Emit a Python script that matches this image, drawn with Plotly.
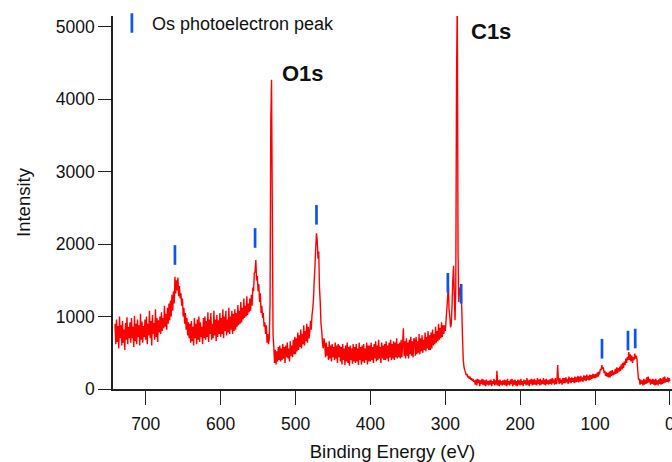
import plotly.graph_objects as go

# XPS survey spectrum at 1 eV steps, from 741 eV down to 0 eV
start_energy = 741
intensity = [
    # 741-722
    900, 620, 960, 650, 870, 560, 1000, 700, 880, 600, 940, 640, 820, 540, 910, 680, 990, 620, 860, 700,
    # 721-702
    920, 640, 980, 700, 860, 580, 1010, 660, 900, 620, 960, 720, 880, 600, 1040, 680, 930, 640, 870, 720,
    # 701-682
    960, 680, 1000, 620, 900, 740, 1080, 700, 940, 600, 1020, 760, 910, 680, 1100, 720, 980, 650, 950, 780,
    # 681-662
    1000, 760, 1060, 800, 980, 840, 1150, 860, 1040, 820, 1120, 900, 1180, 950, 1220, 1000, 1300, 1080, 1350, 1180,
    # 661-642
    1550, 1320, 1500, 1360, 1540, 1280, 1420, 1250, 1320, 1150, 1250, 1000, 1120, 900, 1050, 820, 980, 740, 920, 700,
    # 641-622
    900, 640, 940, 660, 860, 600, 980, 700, 900, 620, 960, 680, 1000, 650, 920, 720, 860, 620, 980, 700,
    # 621-602
    1000, 680, 940, 720, 1060, 650, 960, 760, 1050, 680, 900, 700, 1080, 740, 960, 660, 1020, 720, 950, 760,
    # 601-582
    1050, 720, 980, 760, 1100, 700, 1000, 800, 1080, 740, 960, 780, 1120, 760, 1000, 820, 1080, 760, 1040, 800,
    # 581-562
    1100, 820, 1050, 860, 1160, 880, 1080, 900, 1200, 920, 1120, 960, 1250, 980, 1150, 1000, 1280, 1020, 1180, 1060,
    # 561-542
    1250, 1080, 1300, 1150, 1400, 1350, 1600, 1620, 1780, 1500, 1560, 1350, 1450, 1200, 1320, 1050, 1150, 980, 1050, 860,
    # 541-522
    920, 760, 880, 640, 760, 620, 700, 1200, 3700, 4270, 2500, 750, 580, 360, 540, 340, 520, 380, 580, 400,
    # 521-502
    600, 380, 560, 400, 620, 420, 580, 360, 600, 440, 640, 420, 560, 380, 660, 460, 600, 440, 680, 480,
    # 501-482
    720, 480, 700, 520, 780, 540, 740, 580, 820, 560, 760, 620, 880, 600, 800, 660, 900, 640, 860, 700,
    # 481-462
    780, 940, 820, 1020, 1100, 1250, 1500, 1700, 1950, 2150, 2050, 1800, 1900, 1400, 1200, 900, 800, 640, 560, 700,
    # 461-442
    620, 440, 640, 460, 580, 400, 660, 420, 600, 380, 620, 440, 580, 400, 640, 420, 600, 360, 620, 440,
    # 441-422
    600, 380, 580, 340, 620, 400, 560, 330, 600, 380, 640, 360, 580, 320, 600, 400, 560, 350, 620, 380,
    # 421-402
    580, 360, 620, 380, 560, 330, 640, 400, 580, 340, 600, 380, 620, 360, 560, 400, 640, 340, 600, 380,
    # 401-382
    600, 380, 640, 400, 580, 360, 620, 420, 660, 380, 600, 400, 680, 420, 580, 360, 640, 420, 600, 400,
    # 381-362
    620, 400, 660, 420, 600, 380, 640, 440, 680, 400, 620, 420, 660, 400, 640, 440, 700, 420, 620, 440,
    # 361-342
    640, 420, 680, 440, 620, 840, 460, 660, 420, 700, 460, 640, 420, 680, 480, 720, 460, 660, 440, 700,
    # 341-322
    680, 460, 720, 480, 660, 500, 760, 480, 700, 520, 740, 500, 680, 540, 780, 520, 720, 560, 800, 540,
    # 321-302
    740, 540, 780, 560, 820, 600, 760, 620, 860, 640, 800, 660, 900, 680, 840, 700, 920, 720, 880, 760,
    # 301-282
    880, 800, 950, 1100, 1250, 1450, 1100, 1000, 850, 900, 1150, 1500, 1700, 1300, 950, 1400, 4300, 5400, 1900, 1200,
    # 281-262
    1400, 1300, 1350, 1100, 700, 400, 300, 260, 230, 190, 210, 160, 180, 140, 170, 130, 150, 110, 140, 100,
    # 261-242
    120, 60, 130, 50, 140, 80, 130, 40, 120, 70, 140, 60, 130, 50, 120, 40, 130, 60, 110, 50,
    # 241-222
    120, 60, 130, 40, 110, 70, 140, 50, 120, 60, 250, 50, 120, 40, 130, 60, 110, 50, 120, 60,
    # 221-202
    130, 50, 120, 40, 140, 60, 110, 50, 130, 70, 140, 40, 120, 60, 130, 50, 110, 40, 130, 60,
    # 201-182
    120, 50, 140, 60, 110, 40, 130, 70, 120, 50, 150, 60, 120, 40, 130, 70, 140, 50, 130, 60,
    # 181-162
    140, 60, 120, 50, 150, 70, 130, 50, 140, 60, 120, 70, 150, 60, 130, 50, 140, 70, 120, 60,
    # 161-142
    130, 70, 140, 60, 150, 80, 130, 60, 150, 70, 80, 330, 140, 70, 150, 80, 130, 60, 150, 80,
    # 141-122
    150, 80, 160, 90, 140, 70, 170, 90, 150, 80, 160, 100, 150, 80, 170, 90, 160, 100, 180, 90,
    # 121-102
    170, 100, 180, 110, 160, 100, 190, 120, 180, 110, 200, 130, 180, 120, 200, 130, 190, 140, 210, 150,
    # 101-82
    200, 150, 210, 160, 230, 170, 240, 200, 280, 260, 330, 280, 300, 220, 250, 180, 230, 170, 220, 160,
    # 81-62
    240, 160, 250, 180, 260, 190, 240, 200, 280, 210, 300, 220, 290, 240, 310, 250, 340, 270, 360, 290,
    # 61-42
    380, 330, 420, 360, 440, 400, 510, 400, 480, 380, 460, 360, 440, 400, 490, 420, 460, 400, 250, 130,
    # 41-22
    140, 60, 130, 70, 120, 50, 140, 60, 130, 70, 160, 80, 170, 90, 140, 60, 130, 70, 140, 60,
    # 21-2
    130, 50, 140, 60, 120, 50, 130, 70, 150, 60, 140, 70, 160, 80, 170, 90, 140, 100, 160, 90,
    # 1-0
    150, 110,
]
assert len(intensity) == start_energy + 1, len(intensity)
binding_energy = [start_energy - i for i in range(len(intensity))]

# Os photoelectron peak markers
os_peak_be = [661, 554, 472, 296.6, 278.8, 90.8, 56.1, 46.4]
os_peak_int = [1850, 2085, 2405, 1467, 1315, 556, 669, 697]

# Peak labels
peak_labels = ["O1s", "C1s"]
peak_label_be = [521, 268.5]
peak_label_int = [4363, 4935]

x_ticks = [0, 100, 200, 300, 400, 500, 600, 700]
y_ticks = [0, 1000, 2000, 3000, 4000, 5000]

FONT = "Liberation Sans, Arial, sans-serif"
AX = "#222222"

fig = go.Figure()
fig.add_trace(go.Scatter(
    x=binding_energy, y=intensity, mode="lines",
    line=dict(color="#ff0000", width=1.4, simplify=False),
    showlegend=False, hoverinfo="skip",
))
fig.add_trace(go.Scatter(
    x=os_peak_be, y=os_peak_int, mode="markers",
    name="Os photoelectron peak",
    marker=dict(symbol="line-ns", size=14, color="#0a55f0",
                line=dict(color="#0a55f0", width=2.7)),
))

for t, bx, by in zip(peak_labels, peak_label_be, peak_label_int):
    fig.add_annotation(x=bx, y=by, xref="x", yref="y", text=f"<b>{t}</b>",
                       showarrow=False, xanchor="left", yanchor="middle",
                       font=dict(family=FONT, size=22, color="#111111"))

fig.update_layout(
    width=672, height=462,
    margin=dict(l=113, r=0, t=16, b=73, autoexpand=False),
    paper_bgcolor="white", plot_bgcolor="white",
    font=dict(family=FONT, size=17.5, color="#111111"),
    legend=dict(x=-0.002, y=1.03, xanchor="left", yanchor="top",
                bgcolor="rgba(0,0,0,0)", font=dict(size=18, family=FONT),
                itemwidth=30, tracegroupgap=0),
    showlegend=True,
)
fig.update_xaxes(
    range=[743.7, -2.7], tickvals=x_ticks, ticks="outside", ticklen=14,
    tickwidth=1.3, tickcolor=AX, showline=True, linecolor=AX, linewidth=1.5,
    showgrid=False, zeroline=False, automargin=False, ticklabelstandoff=4,
    ticklabeloverflow="allow",
    title=dict(text="Binding Energy (eV)", font=dict(size=18.5, family=FONT), standoff=14),
)
fig.update_yaxes(
    range=[0, 5150], tickvals=y_ticks, tickformat="d", ticks="outside", ticklen=13,
    tickwidth=1.3, tickcolor=AX, showline=True, linecolor=AX, linewidth=1.5,
    showgrid=False, zeroline=False, automargin=False,
    title=dict(text="Intensity", font=dict(size=18.5, family=FONT), standoff=20),
)

fig.write_html("out.html", config={"displayModeBar": False},
               post_script="document.body.style.margin='0';")
